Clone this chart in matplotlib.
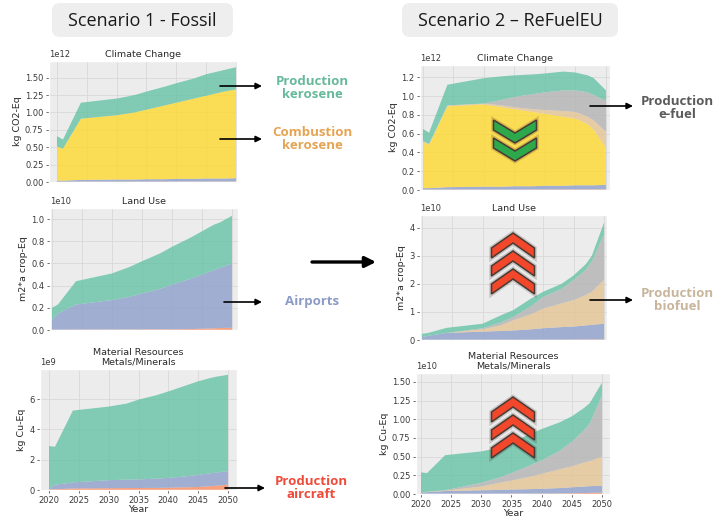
import numpy as np
import matplotlib.pyplot as plt
from matplotlib.patches import Polygon, FancyBboxPatch

plt.style.use("ggplot")

# years sampled for every impact series
YEARS = [2020, 2021, 2024, 2030, 2033, 2035, 2038, 2040, 2043, 2045, 2047, 2048, 2050]
XTICKS = [2020, 2025, 2030, 2035, 2040, 2045, 2050]
NONE = [0, 0, 0, 0, 0, 0, 0, 0, 0, 0, 0, 0, 0]

# stack order, bottom to top
SERIES = ["Production aircraft", "Airports", "Combustion kerosene",
          "Production biofuel", "Production e-fuel", "Production kerosene"]
COLORS = ["#fc8d62", "#8da0cb", "#ffd92f", "#e5c494", "#b3b3b3", "#66c2a5"]

# --- Scenario 1 (fossil) ---
# climate change, 1e12 kg CO2-Eq
s1_cc_aircraft = [0.003, 0.003, 0.004, 0.004, 0.004, 0.004, 0.005, 0.005, 0.005, 0.005, 0.006, 0.006, 0.006]
s1_cc_airports = [0.017, 0.017, 0.026, 0.031, 0.031, 0.036, 0.035, 0.040, 0.040, 0.045, 0.044, 0.044, 0.049]
s1_cc_combustion = [0.49, 0.46, 0.88, 0.925, 0.965, 1.00, 1.06, 1.095, 1.155, 1.19, 1.23, 1.25, 1.275]
s1_cc_kerosene = [0.15, 0.13, 0.23, 0.24, 0.25, 0.26, 0.27, 0.28, 0.29, 0.31, 0.31, 0.31, 0.32]
# land use, 1e10 m2*a crop-Eq
s1_lu_aircraft = [0.002, 0.002, 0.003, 0.004, 0.004, 0.005, 0.005, 0.006, 0.008, 0.012, 0.015, 0.018, 0.02]
s1_lu_airports = [0.088, 0.148, 0.227, 0.266, 0.296, 0.325, 0.365, 0.404, 0.452, 0.488, 0.525, 0.542, 0.58]
s1_lu_kerosene = [0.11, 0.08, 0.21, 0.24, 0.27, 0.29, 0.32, 0.34, 0.37, 0.39, 0.41, 0.41, 0.43]
# material resources, 1e9 kg Cu-Eq
s1_mr_aircraft = [0.03, 0.05, 0.10, 0.12, 0.13, 0.13, 0.14, 0.15, 0.18, 0.20, 0.25, 0.28, 0.35]
s1_mr_airports = [0.07, 0.30, 0.40, 0.53, 0.55, 0.57, 0.61, 0.65, 0.72, 0.80, 0.85, 0.87, 0.90]
s1_mr_kerosene = [2.80, 2.50, 4.74, 4.85, 5.02, 5.26, 5.50, 5.70, 6.00, 6.17, 6.28, 6.32, 6.35]

# --- Scenario 2 (ReFuelEU) ---
s2_cc_aircraft = [0.003, 0.003, 0.004, 0.004, 0.004, 0.004, 0.005, 0.005, 0.005, 0.005, 0.006, 0.006, 0.006]
s2_cc_airports = [0.017, 0.017, 0.026, 0.031, 0.031, 0.036, 0.035, 0.040, 0.040, 0.045, 0.044, 0.044, 0.049]
s2_cc_combustion = [0.49, 0.46, 0.86, 0.875, 0.845, 0.82, 0.79, 0.765, 0.735, 0.71, 0.65, 0.59, 0.395]
s2_cc_biofuel = [0.01, 0.01, 0.01, 0.01, 0.02, 0.02, 0.03, 0.04, 0.06, 0.07, 0.08, 0.10, 0.17]
s2_cc_efuel = [0, 0, 0, 0, 0.06, 0.11, 0.16, 0.19, 0.22, 0.23, 0.26, 0.27, 0.33]
s2_cc_kerosene = [0.13, 0.12, 0.22, 0.27, 0.25, 0.23, 0.21, 0.20, 0.20, 0.19, 0.18, 0.18, 0.11]

s2_lu_aircraft = [0.002, 0.002, 0.003, 0.004, 0.004, 0.005, 0.005, 0.006, 0.008, 0.012, 0.015, 0.018, 0.02]
s2_lu_airports = [0.098, 0.148, 0.247, 0.296, 0.316, 0.335, 0.375, 0.414, 0.452, 0.468, 0.505, 0.522, 0.56]
s2_lu_biofuel = [0, 0, 0, 0.08, 0.20, 0.36, 0.54, 0.70, 0.84, 0.94, 1.08, 1.18, 1.56]
s2_lu_efuel = [0, 0, 0, 0.04, 0.10, 0.12, 0.28, 0.42, 0.52, 0.72, 0.90, 1.08, 1.62]
s2_lu_kerosene = [0.12, 0.10, 0.18, 0.16, 0.26, 0.24, 0.28, 0.18, 0.18, 0.16, 0.20, 0.20, 0.42]

s2_mr_aircraft = [0.002, 0.002, 0.003, 0.003, 0.003, 0.004, 0.004, 0.005, 0.006, 0.010, 0.012, 0.015, 0.020]
s2_mr_airports = [0.018, 0.023, 0.037, 0.047, 0.052, 0.056, 0.061, 0.065, 0.074, 0.080, 0.088, 0.090, 0.090]
s2_mr_biofuel = [0, 0.005, 0.005, 0.05, 0.095, 0.12, 0.165, 0.20, 0.25, 0.28, 0.32, 0.335, 0.39]
s2_mr_efuel = [0, 0, 0.005, 0.05, 0.07, 0.10, 0.15, 0.18, 0.25, 0.33, 0.43, 0.51, 0.82]
s2_mr_kerosene = [0.27, 0.25, 0.47, 0.42, 0.40, 0.41, 0.42, 0.42, 0.38, 0.34, 0.30, 0.27, 0.17]

W, H = 716, 519
fig = plt.figure(figsize=(W / 100, H / 100), dpi=100)
fig.patch.set_facecolor("white")


def panel(box, xlim, ylim, yticks, layers, scale, title, ylabel, bottom=False):
    l, t, r, b = box
    ax = fig.add_axes([l / W, 1 - b / H, (r - l) / W, (b - t) / H])
    ax.set_facecolor("#ececec")
    ax.stackplot(YEARS, *[np.array(v) * scale for v in layers],
                 colors=COLORS, alpha=0.8, linewidth=0)
    ax.set_xlim(*xlim)
    ax.set_ylim(ylim[0] * scale, ylim[1] * scale)
    ax.set_xticks(XTICKS)
    ax.set_yticks([v * scale for v in yticks])
    ax.grid(True, color="#d8d8d8", linewidth=0.6)
    ax.tick_params(labelsize=6, colors="#555555", length=2.5, width=0.6,
                   labelcolor="#3a3a3a", pad=1.5)
    ax.yaxis.get_offset_text().set_fontsize(6)
    ax.yaxis.get_offset_text().set_color("#3a3a3a")
    ax.set_title(title, fontsize=6.8, color="#2a2a2a", pad=3, linespacing=1.1)
    ax.set_ylabel(ylabel, fontsize=6.8, color="#2a2a2a", labelpad=2)
    if bottom:
        ax.set_xlabel("Year", fontsize=6.8, color="#2a2a2a", labelpad=0)
    else:
        ax.tick_params(axis="x", labelbottom=False, length=0)
    return ax


panel((49, 61, 237, 182), (2018.66, 2050.17), (0, 1.74), [0, 0.25, 0.5, 0.75, 1.0, 1.25, 1.5],
      [s1_cc_aircraft, s1_cc_airports, s1_cc_combustion, NONE, NONE, s1_cc_kerosene],
      1e12, "Climate Change", "kg CO2-Eq")
panel((50, 208, 238, 330), (2019.67, 2051.0), (0, 1.1), [0, 0.2, 0.4, 0.6, 0.8, 1.0],
      [s1_lu_aircraft, s1_lu_airports, NONE, NONE, NONE, s1_lu_kerosene],
      1e10, "Land Use", "m2*a crop-Eq")
panel((40, 369, 237, 490), (2018.49, 2051.51), (0, 7.98), [0, 2, 4, 6],
      [s1_mr_aircraft, s1_mr_airports, NONE, NONE, NONE, s1_mr_kerosene],
      1e9, "Material Resources\nMetals/Minerals", "kg Cu-Eq", bottom=True)

panel((420, 65, 610, 190), (2019.51, 2050.66), (0, 1.33), [0, 0.2, 0.4, 0.6, 0.8, 1.0, 1.2],
      [s2_cc_aircraft, s2_cc_airports, s2_cc_combustion, s2_cc_biofuel, s2_cc_efuel, s2_cc_kerosene],
      1e12, "Climate Change", "kg CO2-Eq")
panel((420, 215, 607, 340), (2019.67, 2050.49), (0, 4.45), [0, 1, 2, 3, 4],
      [s2_lu_aircraft, s2_lu_airports, NONE, s2_lu_biofuel, s2_lu_efuel, s2_lu_kerosene],
      1e10, "Land Use", "m2*a crop-Eq")
panel((416, 373, 610, 494), (2019.17, 2051.33), (0, 1.62), [0, 0.25, 0.5, 0.75, 1.0, 1.25, 1.5],
      [s2_mr_aircraft, s2_mr_airports, NONE, s2_mr_biofuel, s2_mr_efuel, s2_mr_kerosene],
      1e10, "Material Resources\nMetals/Minerals", "kg Cu-Eq", bottom=True)

# overlay in pixel units for headers, arrows and chevrons
ov = fig.add_axes([0, 0, 1, 1])
ov.set_xlim(0, W)
ov.set_ylim(H, 0)
ov.axis("off")
ov.patch.set_alpha(0)
ov.set_zorder(10)

for x0, x1, label in [(52, 233, "Scenario 1 - Fossil"), (402, 618, "Scenario 2 \u2013 ReFuelEU")]:
    ov.add_patch(FancyBboxPatch((x0, 3), x1 - x0, 34, boxstyle="round,pad=0,rounding_size=8",
                                fc="#eeeeee", ec="none"))
    ov.text((x0 + x1) / 2, 21, label, ha="center", va="center", fontsize=13,
            family="Open Sans", color="#1a1a1a")


def arrow(x0, x1, y, lw=1.2, scale=9):
    ov.annotate("", xy=(x1, y), xytext=(x0, y),
                arrowprops=dict(arrowstyle="-|>", color="black", lw=lw,
                                mutation_scale=scale, shrinkA=0, shrinkB=0))


def label(x, y, text, color):
    ov.text(x, y, text, ha="center", va="center", fontsize=9.5, family="Open Sans",
            weight="bold", color=color, linespacing=1.05)


arrow(220, 262, 86)
label(312, 88, "Production\nkerosene", "#66b99a")
arrow(220, 262, 139)
label(312, 139, "Combustion\nkerosene", "#e5a453")
arrow(224, 262, 302)
label(312, 302, "Airports", "#8b9ac6")
arrow(225, 265, 488)
label(311, 488, "Production\naircraft", "#ee4b3b")
arrow(590, 633, 106)
label(677, 108, "Production\ne-fuel", "#5a5a5a")
arrow(590, 633, 300)
label(677, 300, "Production\nbiofuel", "#c8b59c")
arrow(312, 376, 262, lw=2.4, scale=16)


def chevron(cx, apex, up, fc, w=43, d=14, t=10):
    s = 1 if up else -1
    pts = [(cx - w / 2, apex + s * d), (cx, apex), (cx + w / 2, apex + s * d),
           (cx + w / 2, apex + s * (d + t)), (cx, apex + s * t), (cx - w / 2, apex + s * (d + t))]
    # thin dark halo, then the filled shape with a dark rim
    ov.add_patch(Polygon(pts, closed=True, fc="none", ec=(0.15, 0.08, 0.05, 0.18), lw=3.2))
    ov.add_patch(Polygon(pts, closed=True, fc=fc, ec="#4a3a34", lw=1.1, joinstyle="miter"))


for apex in [143, 161]:
    chevron(515, apex, False, "#2da84a", d=13, t=10)
for apex in [233, 251, 269]:
    chevron(513, apex, True, "#f2472a", d=15)
for apex in [397, 415, 433]:
    chevron(513, apex, True, "#f2472a", d=15)

fig.savefig("out.png", dpi=100)
